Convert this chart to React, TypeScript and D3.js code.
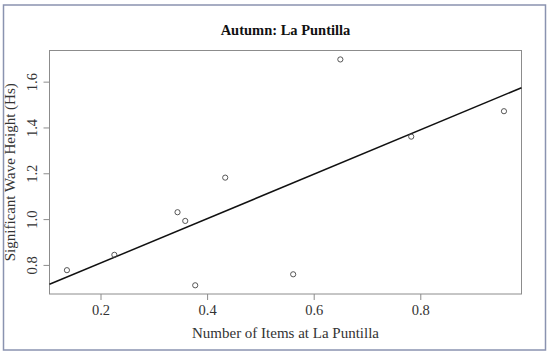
import React, { useEffect, useRef } from "react";
import * as d3 from "d3";

// scatter of items vs wave height with a least-squares line

const items = [0.137, 0.226, 0.3445, 0.359, 0.3777, 0.434, 0.5615, 0.65, 0.783, 0.957];
const waveHeight = [0.777, 0.844, 1.03, 0.992, 0.711, 1.181, 0.759, 1.697, 1.36, 1.471];
const xTicks = [0.2, 0.4, 0.6, 0.8];
const yTicks = [0.8, 1.0, 1.2, 1.4, 1.6];

const W = 550;
const H = 356;
const FONT = "'Liberation Serif', 'Times New Roman', serif";

export default function App() {
  const svgRef = useRef<SVGSVGElement | null>(null);

  useEffect(() => {
    const svg = d3.select(svgRef.current);
    svg.selectAll("*").remove();

    const plot = { left: 49.5, top: 50.5, right: 521.5, bottom: 294 };

    const x = d3.scaleLinear().domain([0.1043, 0.9899]).range([plot.left, plot.right]);
    const y = d3.scaleLinear().domain([0.673, 1.736]).range([plot.bottom, plot.top]);

    // outer frame
    svg.append("rect")
      .attr("x", 3.5).attr("y", 5).attr("width", 542).attr("height", 345)
      .attr("fill", "white").attr("stroke", "#8a93b0").attr("stroke-width", 1.5);

    // plot box
    svg.append("rect")
      .attr("x", plot.left).attr("y", plot.top)
      .attr("width", plot.right - plot.left).attr("height", plot.bottom - plot.top)
      .attr("fill", "none").attr("stroke", "#8c8c8c").attr("stroke-width", 1);

    // x axis
    const xAxis = svg.append("g")
      .attr("transform", `translate(0,${plot.bottom})`)
      .call(d3.axisBottom(x).tickValues(xTicks).tickSize(6).tickPadding(5).tickFormat(d3.format(".1f")))
      .attr("font-family", FONT).attr("font-size", 14.5);
    xAxis.select(".domain").remove();
    xAxis.selectAll("line").attr("stroke", "#8c8c8c");
    xAxis.selectAll("text").attr("fill", "#333");

    // y axis, labels parallel to the axis
    const yAxis = svg.append("g")
      .attr("transform", `translate(${plot.left},0)`)
      .call(d3.axisLeft(y).tickValues(yTicks).tickSize(6).tickFormat(d3.format(".1f")))
      .attr("font-family", FONT).attr("font-size", 14.5);
    yAxis.select(".domain").remove();
    yAxis.selectAll("line").attr("stroke", "#8c8c8c");
    yAxis.selectAll("text")
      .attr("fill", "#333")
      .attr("x", null).attr("dy", null)
      .attr("text-anchor", "middle")
      .attr("transform", "translate(-13,0) rotate(-90)");

    // regression line
    const mx = d3.mean(items) ?? 0;
    const my = d3.mean(waveHeight) ?? 0;
    const sxy = d3.sum(items, (v, i) => (v - mx) * (waveHeight[i] - my));
    const sxx = d3.sum(items, (v) => (v - mx) ** 2);
    const slope = sxy / sxx;
    const intercept = my - slope * mx;
    const [x0, x1] = x.domain();
    svg.append("line")
      .attr("x1", x(x0)).attr("y1", y(intercept + slope * x0))
      .attr("x2", x(x1)).attr("y2", y(intercept + slope * x1))
      .attr("stroke", "#111").attr("stroke-width", 1.5);

    // points
    svg.append("g")
      .selectAll("circle")
      .data(items)
      .join("circle")
      .attr("cx", (d) => x(d))
      .attr("cy", (d, i) => y(waveHeight[i]))
      .attr("r", 2.6)
      .attr("fill", "none")
      .attr("stroke", "#444")
      .attr("stroke-width", 0.9);

    // title and axis labels
    svg.append("text")
      .attr("x", (plot.left + plot.right) / 2).attr("y", 35)
      .attr("text-anchor", "middle")
      .attr("font-family", FONT).attr("font-size", 14.5).attr("font-weight", "bold")
      .attr("fill", "#111")
      .text("Autumn: La Puntilla");

    svg.append("text")
      .attr("x", (plot.left + plot.right) / 2).attr("y", 338)
      .attr("text-anchor", "middle")
      .attr("font-family", FONT).attr("font-size", 15).attr("fill", "#333")
      .text("Number of Items at La Puntilla");

    svg.append("text")
      .attr("transform", `translate(15,${(plot.top + plot.bottom) / 2}) rotate(-90)`)
      .attr("text-anchor", "middle")
      .attr("font-family", FONT).attr("font-size", 15).attr("fill", "#333")
      .text("Significant Wave Height (Hs)");
  }, []);

  return (
    <svg
      ref={svgRef}
      width={W}
      height={H}
      style={{ position: "absolute", left: 0, top: 0, display: "block" }}
    />
  );
}
